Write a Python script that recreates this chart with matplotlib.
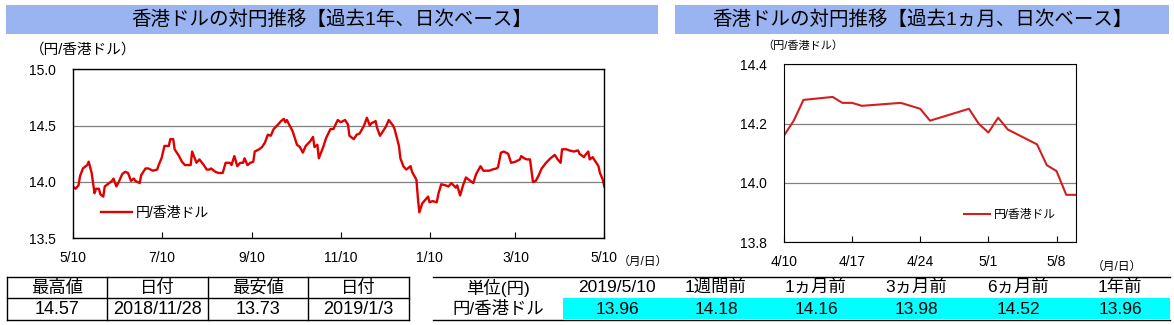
import matplotlib
matplotlib.use("Agg")
import matplotlib.pyplot as plt
import pandas as pd

plt.rcParams['font.family'] = ['Liberation Sans', 'Noto Sans CJK JP']

W, H = 1174, 325

# 過去1年 (2018/5/10 からの経過日数, 円/香港ドル)
year_days = [0, 2, 4, 5, 7, 10, 11, 13, 15, 16, 18, 19, 21, 22, 24, 27, 28, 30, 32, 34,
             36, 38, 40, 42, 43, 46, 47, 50, 52, 55, 58, 59, 61, 63, 66, 67, 69, 70, 73, 75,
             77, 81, 82, 85, 87, 90, 92, 94, 95, 98, 100, 103, 105, 108, 109, 111, 113, 115, 117, 118,
             120, 122, 124, 125, 128, 130, 132, 134, 136, 138, 141, 143, 145, 146, 147, 149, 151, 154, 156, 158,
             160, 163, 165, 166, 168, 169, 172, 174, 177, 179, 182, 184, 187, 189, 190, 193, 195, 197, 200, 202,
             204, 205, 208, 209, 211, 213, 215, 217, 220, 221, 224, 225, 227, 229, 232, 233, 236, 237, 238, 240,
             242, 244, 245, 247, 250, 251, 253, 256, 258, 260, 263, 264, 266, 268, 270, 273, 275, 277, 280, 282,
             284, 286, 288, 291, 292, 294, 296, 299, 301, 304, 307, 308, 310, 312, 314, 315, 316, 318, 320, 322,
             325, 328, 331, 333, 335, 336, 339, 341, 344, 347, 348, 351, 352, 354, 355, 357, 359, 361, 362, 364,
             365]
year_vals = [13.96, 13.94, 13.97, 14.05, 14.12, 14.15, 14.18, 14.08, 13.90, 13.94, 13.94, 13.89, 13.87, 13.96, 13.98, 14.01, 14.03, 13.96, 14.01, 14.07,
             14.09, 14.08, 14.01, 14.03, 14.01, 13.99, 14.06, 14.12, 14.12, 14.10, 14.11, 14.15, 14.21, 14.32, 14.32, 14.38, 14.38, 14.29, 14.23, 14.18,
             14.15, 14.15, 14.27, 14.17, 14.20, 14.15, 14.11, 14.11, 14.12, 14.09, 14.08, 14.08, 14.17, 14.17, 14.15, 14.23, 14.14, 14.17, 14.17, 14.21,
             14.15, 14.17, 14.18, 14.27, 14.29, 14.31, 14.35, 14.42, 14.41, 14.47, 14.51, 14.54, 14.56, 14.53, 14.55, 14.50, 14.45, 14.33, 14.31, 14.26,
             14.32, 14.36, 14.40, 14.31, 14.33, 14.21, 14.31, 14.39, 14.47, 14.47, 14.55, 14.53, 14.55, 14.51, 14.41, 14.38, 14.42, 14.43, 14.50, 14.57,
             14.50, 14.52, 14.54, 14.48, 14.41, 14.45, 14.49, 14.55, 14.50, 14.47, 14.32, 14.21, 14.14, 14.11, 14.14, 14.09, 14.02, 13.86, 13.73, 13.81,
             13.84, 13.87, 13.82, 13.83, 13.82, 13.89, 13.98, 13.97, 13.96, 13.99, 13.95, 13.97, 13.88, 13.97, 14.04, 14.01, 13.99, 14.07, 14.14, 14.10,
             14.10, 14.10, 14.11, 14.12, 14.13, 14.26, 14.27, 14.25, 14.17, 14.18, 14.20, 14.23, 14.21, 14.20, 14.20, 14.10, 14.00, 14.01, 14.06, 14.12,
             14.17, 14.21, 14.24, 14.20, 14.17, 14.29, 14.29, 14.28, 14.27, 14.28, 14.25, 14.22, 14.24, 14.27, 14.20, 14.22, 14.18, 14.14, 14.08, 14.02,
             13.96]

# 過去1ヵ月
month_dates = ['2019-04-10', '2019-04-11', '2019-04-12', '2019-04-15', '2019-04-16', '2019-04-17',
               '2019-04-18', '2019-04-22', '2019-04-23', '2019-04-24', '2019-04-25', '2019-04-26',
               '2019-04-29', '2019-04-30', '2019-05-01', '2019-05-02', '2019-05-03', '2019-05-06',
               '2019-05-07', '2019-05-08', '2019-05-09', '2019-05-10']
month_vals = [14.16, 14.21, 14.28, 14.29, 14.27, 14.27, 14.26, 14.27, 14.26, 14.25, 14.21, 14.22,
              14.25, 14.20, 14.17, 14.22, 14.18, 14.13, 14.06, 14.04, 13.96, 13.96]

year_ticks = ['2018-05-10', '2018-07-10', '2018-09-10', '2018-11-10', '2019-01-10', '2019-03-10', '2019-05-10']
month_ticks = ['2019-04-10', '2019-04-17', '2019-04-24', '2019-05-01', '2019-05-08']

# 表
hl_header = ['最高値', '日付', '最安値', '日付']
hl_values = ['14.57', '2018/11/28', '13.73', '2019/1/3']
cmp_header = ['単位(円)', '2019/5/10', '1週間前', '1ヵ月前', '3ヵ月前', '6ヵ月前', '1年前']
cmp_values = ['円/香港ドル', '13.96', '14.18', '14.16', '13.98', '14.52', '13.96']


def rect(x0, y0, x1, y1):
    return [x0 / W, 1 - y1 / H, (x1 - x0) / W, (y1 - y0) / H]


fig = plt.figure(figsize=(W / 100, H / 100), dpi=100)

# 背景用 (ピクセル座標)
bg = fig.add_axes([0, 0, 1, 1])
bg.set_xlim(0, W)
bg.set_ylim(H, 0)
bg.axis('off')

banner = '#99B4F0'
bg.add_patch(plt.Rectangle((6, 5), 652, 29, color=banner, lw=0))
bg.add_patch(plt.Rectangle((675, 5), 494, 29, color=banner, lw=0))
bg.text(332, 20, '香港ドルの対円推移【過去1年、日次ベース】', ha='center', va='center', fontsize=14)
bg.text(922, 20, '香港ドルの対円推移【過去1ヵ月、日次ベース】', ha='center', va='center', fontsize=14)
bg.text(30, 50, '（円/香港ドル）', ha='left', va='center', fontsize=10.5)
bg.text(762, 46, '（円/香港ドル）', ha='left', va='center', fontsize=8)
bg.text(618, 262, '（月/日）', ha='left', va='center', fontsize=8.5)
bg.text(1092, 267, '（月/日）', ha='left', va='center', fontsize=8.5)

# 最高値・最安値の表
xs = [7, 107, 208, 308, 409]
for y in [277, 298, 320]:
    bg.plot([xs[0], xs[-1]], [y, y], color='black', lw=1)
for x in xs:
    bg.plot([x, x], [277, 320], color='black', lw=1)
for i in range(4):
    cx = (xs[i] + xs[i + 1]) / 2
    bg.text(cx, 287.5, hl_header[i], ha='center', va='center', fontsize=12.5)
    bg.text(cx, 309.5, hl_values[i], ha='center', va='center', fontsize=13)

# 比較表
bg.add_patch(plt.Rectangle((563, 298), 607, 21, color='#00FFFF', lw=0))
bg.plot([433, 1170], [277, 277], color='black', lw=1)
bg.plot([433, 1170], [320, 320], color='black', lw=1)
col_x = [498, 617, 716, 816, 916, 1018, 1120]
for i in range(7):
    bg.text(col_x[i], 287.5, cmp_header[i], ha='center', va='center', fontsize=12.5)
    bg.text(col_x[i], 309, cmp_values[i], ha='center', va='center', fontsize=12.5)

# 過去1年チャート
ax1 = fig.add_axes(rect(72.7, 69.3, 604.3, 238.3))
d0 = pd.Timestamp('2018-05-10')
year_x = [d0 + pd.Timedelta(days=d) for d in year_days]
ax1.plot(year_x, year_vals, color='#E00000', lw=1.7, label='円/香港ドル')
ax1.set_xlim(pd.Timestamp(year_ticks[0]), pd.Timestamp(year_ticks[-1]))
ax1.set_ylim(13.5, 15.0)
ax1.set_yticks([13.5, 14.0, 14.5, 15.0])
ax1.set_yticklabels(['13.5', '14.0', '14.5', '15.0'])
ax1.set_xticks([pd.Timestamp(t) for t in year_ticks])
ax1.set_xticklabels([f'{pd.Timestamp(t).month}/{pd.Timestamp(t).day}' for t in year_ticks])
ax1.tick_params(axis='y', length=0, pad=12, labelsize=10)
ax1.tick_params(axis='x', direction='in', length=4, pad=9, labelsize=10)
ax1.grid(axis='y', color='#808080', lw=0.9)
for s in ax1.spines.values():
    s.set_linewidth(1)
ax1.legend(loc='center left', bbox_to_anchor=(0.03, 0.15), frameon=False, fontsize=10,
           handlelength=2.2, handletextpad=0.3)

# 過去1ヵ月チャート
ax2 = fig.add_axes(rect(784, 64.3, 1076, 242.3))
month_x = pd.to_datetime(month_dates)
ax2.plot(month_x, month_vals, color='#D02020', lw=1.5, label='円/香港ドル')
ax2.set_xlim(pd.Timestamp('2019-04-10'), pd.Timestamp('2019-05-10'))
ax2.set_ylim(13.8, 14.4)
ax2.set_yticks([13.8, 14.0, 14.2, 14.4])
ax2.set_yticklabels(['13.8', '14.0', '14.2', '14.4'])
ax2.set_xticks([pd.Timestamp(t) for t in month_ticks])
ax2.set_xticklabels([f'{pd.Timestamp(t).month}/{pd.Timestamp(t).day}' for t in month_ticks])
ax2.tick_params(axis='y', length=0, pad=12, labelsize=10)
ax2.tick_params(axis='x', direction='in', length=4, pad=9, labelsize=10)
ax2.grid(axis='y', color='#808080', lw=0.9)
ax2.legend(loc='center left', bbox_to_anchor=(0.58, 0.155), frameon=False, fontsize=8.5,
           handlelength=2.2, handletextpad=0.3)

fig.savefig('out.png', dpi=100)
